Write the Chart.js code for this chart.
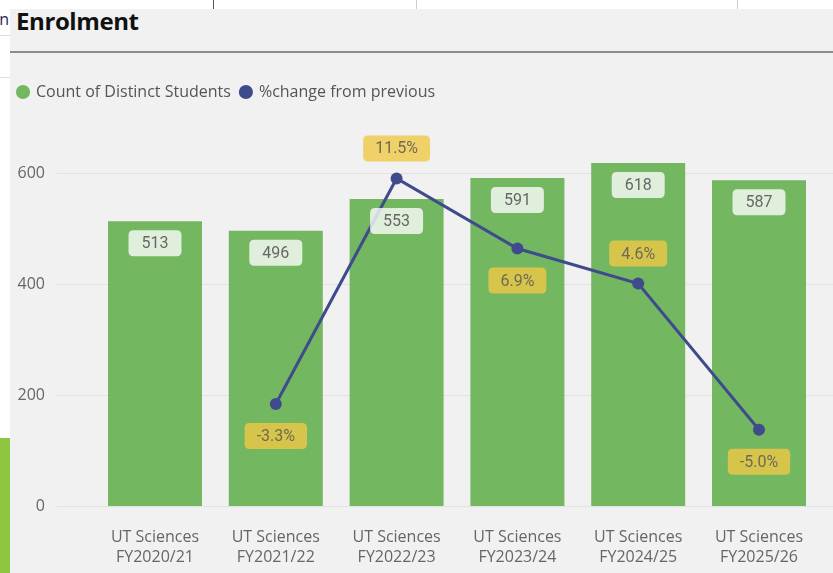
<!DOCTYPE html>
<html><head><meta charset="utf-8">
<script src="https://cdn.jsdelivr.net/npm/chart.js@4/dist/chart.umd.min.js"></script>
<style>
html,body{margin:0;padding:0;background:#fff;}
body{width:833px;height:573px;overflow:hidden;position:relative;font-family:'Open Sans',sans-serif;}
.abs{position:absolute;}
#panel{left:10px;top:9px;width:823px;height:564px;background:#f1f1f1;}
#title{left:16px;top:9px;font-weight:700;font-size:24px;line-height:24px;color:#111;letter-spacing:-0.4px;white-space:nowrap;}
#sep{left:10px;top:51px;width:823px;height:2px;background:#8c8c8c;}
#cwrap{left:8px;top:53px;width:825px;height:541px;}
</style></head>
<body>
<div class="abs" style="left:213px;top:0;width:1px;height:9px;background:#555"></div>
<div class="abs" style="left:416px;top:0;width:1px;height:9px;background:#ccc"></div>
<div class="abs" style="left:737px;top:0;width:1px;height:9px;background:#ccc"></div>
<div class="abs" style="left:0;top:35px;width:10px;height:1px;background:#ddd"></div>
<div class="abs" style="left:0;top:77px;width:10px;height:1px;background:#ddd"></div>
<div class="abs" style="left:0;top:438px;width:10px;height:135px;background:#8dc63f"></div>
<div class="abs" style="left:-30px;top:10px;width:39px;overflow:hidden;text-align:right;font-size:16px;line-height:18px;color:#1f2a55;white-space:nowrap">tion</div>
<div id="panel" class="abs"></div>
<div id="title" class="abs">Enrolment</div>
<div id="sep" class="abs"></div>
<div id="cwrap" class="abs"><canvas id="c" width="825" height="541"></canvas></div>
<script>
// ---- data ----
const categories = [
  ["UT Sciences", "FY2020/21"],
  ["UT Sciences", "FY2021/22"],
  ["UT Sciences", "FY2022/23"],
  ["UT Sciences", "FY2023/24"],
  ["UT Sciences", "FY2024/25"],
  ["UT Sciences", "FY2025/26"]
];
const studentCounts = [513, 496, 553, 591, 618, 587];
const pctChange = [null, -3.3, 11.5, 6.9, 4.6, -5.0];
const yTickValues = [0, 200, 400, 600];
const seriesNames = ["Count of Distinct Students", "%change from previous"];

// ---- styles ----
const BAR_COLOR = '#73b761';
const LINE_COLOR = '#3f4b8c';
const TEXT_COLOR = '#666666';
const pctAbove = [false, false, true, false, true, false];

function roundRect(ctx, x, y, w, h, r) {
  ctx.beginPath();
  ctx.moveTo(x + r, y);
  ctx.lineTo(x + w - r, y);
  ctx.quadraticCurveTo(x + w, y, x + w, y + r);
  ctx.lineTo(x + w, y + h - r);
  ctx.quadraticCurveTo(x + w, y + h, x + w - r, y + h);
  ctx.lineTo(x + r, y + h);
  ctx.quadraticCurveTo(x, y + h, x, y + h - r);
  ctx.lineTo(x, y + r);
  ctx.quadraticCurveTo(x, y, x + r, y);
  ctx.closePath();
}

const legendMargin = {
  id: 'legendMargin',
  beforeInit(chart) {
    const orig = chart.legend.fit;
    chart.legend.fit = function () { orig.bind(chart.legend)(); this.height += 7.5; };
  }
};

const gridPlugin = {
  id: 'fullGrid',
  beforeDatasetsDraw(chart) {
    const ctx = chart.ctx, y = chart.scales.y;
    ctx.save();
    ctx.strokeStyle = '#e2e2e2';
    ctx.lineWidth = 1;
    yTickValues.forEach(v => {
      const py = Math.round(y.getPixelForValue(v)) + 0.5;
      ctx.beginPath();
      ctx.moveTo(49, py);
      ctx.lineTo(chart.width, py);
      ctx.stroke();
    });
    ctx.restore();
  }
};

const labelPlugin = {
  id: 'valueLabels',
  afterDatasetsDraw(chart) {
    const ctx = chart.ctx;
    ctx.save();
    ctx.font = '16px Roboto';
    ctx.textAlign = 'center';
    ctx.textBaseline = 'middle';
    const barMeta = chart.getDatasetMeta(0);
    barMeta.data.forEach((bar, i) => {
      const txt = String(studentCounts[i]);
      const w = ctx.measureText(txt).width + 26, h = 26;
      const cx = bar.x, cy = bar.y + 22;
      ctx.fillStyle = 'rgba(255,255,255,0.78)';
      roundRect(ctx, cx - w / 2, cy - h / 2, w, h, 5);
      ctx.fill();
      ctx.fillStyle = TEXT_COLOR;
      ctx.fillText(txt, cx, cy + 1);
    });
    const lineMeta = chart.getDatasetMeta(1);
    lineMeta.data.forEach((pt, i) => {
      const v = pctChange[i];
      if (v === null || v === undefined) return;
      const txt = v.toFixed(1) + '%';
      const w = ctx.measureText(txt).width + 24, h = 26;
      const cx = pt.x, cy = pt.y + (pctAbove[i] ? -30 : 32);
      ctx.fillStyle = 'rgba(240,200,70,0.8)';
      roundRect(ctx, cx - w / 2, cy - h / 2, w, h, 5);
      ctx.fill();
      ctx.fillStyle = '#6e6a55';
      ctx.fillText(txt, cx, cy + 1);
    });
    ctx.restore();
  }
};

new Chart(document.getElementById('c'), {
  data: {
    labels: categories,
    datasets: [
      {
        type: 'bar',
        label: seriesNames[0],
        data: studentCounts,
        backgroundColor: BAR_COLOR,
        borderWidth: 0,
        barPercentage: 0.778,
        categoryPercentage: 1,
        yAxisID: 'y',
        order: 2
      },
      {
        type: 'line',
        label: seriesNames[1],
        data: pctChange,
        borderColor: LINE_COLOR,
        backgroundColor: LINE_COLOR,
        borderWidth: 3,
        pointRadius: 6,
        pointBackgroundColor: LINE_COLOR,
        pointBorderWidth: 0,
        tension: 0,
        yAxisID: 'y1',
        order: 1
      }
    ]
  },
  options: {
    responsive: false,
    animation: false,
    devicePixelRatio: 1,
    layout: { padding: { top: 21, right: 13.6, bottom: 6, left: 0 } },
    plugins: {
      tooltip: { enabled: false },
      title: { display: false },
      legend: {
        display: true,
        position: 'top',
        align: 'start',
        labels: {
          usePointStyle: true,
          pointStyle: 'circle',
          boxWidth: 10,
          boxHeight: 10,
          padding: 10,
          color: '#555555',
          font: { family: 'Open Sans', size: 16 },
          sort: (a, b) => a.datasetIndex - b.datasetIndex
        }
      }
    },
    scales: {
      x: {
        grid: { display: false, drawTicks: false },
        border: { display: false },
        ticks: {
          color: TEXT_COLOR,
          padding: 21,
          maxRotation: 0,
          autoSkip: false,
          font: { family: 'Open Sans', size: 16, lineHeight: 1.25 }
        }
      },
      y: {
        position: 'left',
        min: 0,
        max: 700,
        grid: { display: false, drawTicks: false },
        border: { display: false },
        afterBuildTicks: s => { s.ticks = yTickValues.map(v => ({ value: v })); },
        afterFit: s => { s.width = 86.6; },
        ticks: {
          color: TEXT_COLOR,
          padding: 49.6,
          font: { family: 'Open Sans', size: 16 }
        }
      },
      y1: {
        display: false,
        position: 'right',
        min: -10,
        max: 15.5
      }
    }
  },
  plugins: [legendMargin, gridPlugin, labelPlugin]
});
</script>
</body></html>
